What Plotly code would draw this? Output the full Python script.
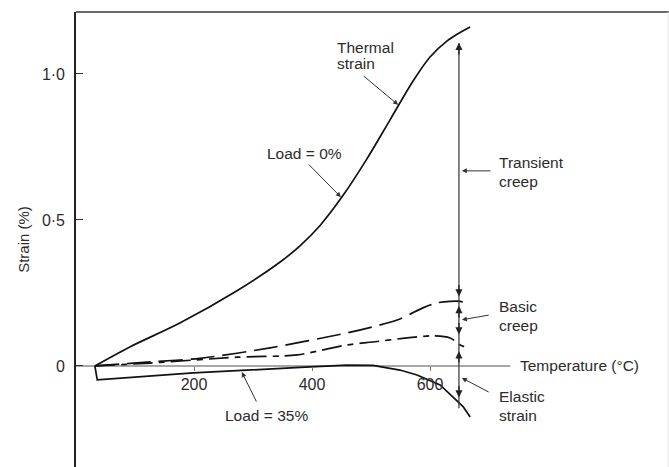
import plotly.graph_objects as go

# ---------------- data ----------------
temp_thermal = [32, 92, 176, 270, 346, 380, 414, 453, 493, 532, 571, 600, 629, 651, 668]
strain_thermal = [0.0, 0.066, 0.147, 0.254, 0.356, 0.412, 0.482, 0.585, 0.709, 0.842, 0.975, 1.058, 1.113, 1.142, 1.161]

temp_basic = [32, 126, 210, 329, 459, 503, 549, 588, 612, 634, 651, 668]
strain_basic = [0.0, 0.014, 0.026, 0.062, 0.113, 0.134, 0.161, 0.199, 0.216, 0.221, 0.221, 0.212]

temp_dashdot = [32, 126, 273, 375, 459, 503, 561, 605, 634, 651, 664]
strain_dashdot = [0.0, 0.010, 0.030, 0.038, 0.072, 0.082, 0.096, 0.103, 0.096, 0.072, 0.062]

temp_load35 = [32, 36, 199, 284, 380, 459, 503, 549, 578, 617, 639, 656, 668]
strain_load35 = [0.0, -0.048, -0.024, -0.016, -0.005, 0.003, 0.002, -0.014, -0.031, -0.065, -0.105, -0.139, -0.175]

marker_temp = 649                      # vertical measuring line
marker_strain = [1.106, -0.145]        # its extent
arrow_up_tips = [1.106, 0.205, 0.05]   # upward arrowheads
arrow_down_tips = [0.238, 0.108, -0.108]  # downward arrowheads

axis_end_temp = 736                    # end of the temperature axis line
x_ticks = [200, 400, 600]
y_ticks = [0, 0.5, 1.0]
y_tick_text = ["0", "0·5", "1·0"]

x_range = [0, 1005]
y_range = [-0.346, 1.212]

FONT = "Liberation Sans, Arial, sans-serif"
TXT = "#2b2b2b"

fig = go.Figure()

# temperature axis line (only up to the label)
fig.add_trace(go.Scatter(x=[0, axis_end_temp], y=[0, 0], mode="lines",
                         line=dict(color="#8a8a8a", width=1.6), hoverinfo="skip"))

fig.add_trace(go.Scatter(x=temp_thermal, y=strain_thermal, mode="lines",
                         line=dict(color="#111", width=1.7, shape="spline", smoothing=0.8)))
fig.add_trace(go.Scatter(x=temp_basic, y=strain_basic, mode="lines",
                         line=dict(color="#111", width=1.7, shape="spline", smoothing=0.8,
                                   dash="24px,8px")))
fig.add_trace(go.Scatter(x=temp_dashdot, y=strain_dashdot, mode="lines",
                         line=dict(color="#111", width=1.7, shape="spline", smoothing=0.8,
                                   dash="20px,6px,6px,6px")))
fig.add_trace(go.Scatter(x=temp_load35, y=strain_load35, mode="lines",
                         line=dict(color="#111", width=1.7, shape="linear")))

# vertical measuring line
fig.add_trace(go.Scatter(x=[marker_temp, marker_temp], y=marker_strain, mode="lines",
                         line=dict(color="#333", width=1.2), hoverinfo="skip"))

anns = []
for yt in arrow_up_tips:
    anns.append(dict(x=marker_temp, y=yt, xref="x", yref="y", ax=0, ay=13,
                     text="", showarrow=True, arrowhead=2, arrowsize=1.1,
                     arrowwidth=1.3, arrowcolor="#222"))
for yt in arrow_down_tips:
    anns.append(dict(x=marker_temp, y=yt, xref="x", yref="y", ax=0, ay=-13,
                     text="", showarrow=True, arrowhead=2, arrowsize=1.1,
                     arrowwidth=1.3, arrowcolor="#222"))

# label arrows (tail -> head, data coords)
label_arrows = [
    ((485, 0.997), (546, 0.894)),   # Thermal strain
    ((392, 0.695), (449, 0.578)),   # Load = 0%
    ((705, 0.668), (654, 0.668)),   # Transient creep
    ((702, 0.175), (654, 0.158)),   # Basic creep
    ((702, -0.092), (654, -0.041)), # Elastic strain
    ((307, -0.127), (281, -0.021)), # Load = 35%
]
for (tx, ty), (hx, hy) in label_arrows:
    anns.append(dict(x=hx, y=hy, ax=tx, ay=ty, xref="x", yref="y", axref="x", ayref="y",
                     text="", showarrow=True, arrowhead=2, arrowsize=1.0,
                     arrowwidth=1.0, arrowcolor="#333"))

labels = [
    ("Thermal", 439, 1.092), ("strain", 439, 1.034),
    ("Load = 0%", 320, 0.729),
    ("Transient", 714, 0.695), ("creep", 714, 0.630),
    ("Basic", 714, 0.205), ("creep", 714, 0.140),
    ("Temperature (°C)", 749, 0.003),
    ("Elastic", 714, -0.106), ("strain", 714, -0.168),
    ("Load = 35%", 249, -0.171),
]
for t, x, y in labels:
    anns.append(dict(x=x, y=y, xref="x", yref="y", text=t, showarrow=False,
                     xanchor="left", yanchor="middle",
                     font=dict(family=FONT, size=15.5, color=TXT)))

fig.update_layout(
    width=669, height=467,
    margin=dict(l=76, r=0, t=12, b=0),
    paper_bgcolor="white", plot_bgcolor="white",
    showlegend=False,
    annotations=anns,
    shapes=[
        dict(type="line", xref="paper", yref="paper", x0=0, x1=1, y0=1, y1=1,
             line=dict(color="#6a6a6a", width=2)),
        dict(type="line", xref="paper", yref="paper", x0=0.9985, x1=0.9985, y0=0, y1=1,
             line=dict(color="#e2e2e2", width=1)),
    ],
    xaxis=dict(range=x_range, showgrid=False, zeroline=False, showline=False,
               tickvals=x_ticks, ticks="outside", ticklen=4, tickcolor="#777",
               tickwidth=1.2,
               anchor="free",
               position=(0 - y_range[0]) / (y_range[1] - y_range[0]),
               tickfont=dict(family=FONT, size=16, color=TXT)),
    yaxis=dict(range=y_range, showgrid=False, zeroline=False, showline=True,
               linecolor="#222", linewidth=1.6,
               tickvals=y_ticks, ticktext=y_tick_text, ticks="inside", ticklen=7,
               tickcolor="#333", tickwidth=1.2, ticklabelstandoff=6,
               tickfont=dict(family=FONT, size=16, color=TXT),
               title=dict(text="Strain (%)", standoff=9,
                          font=dict(family=FONT, size=15, color=TXT))),
)

fig.write_html("out.html")
